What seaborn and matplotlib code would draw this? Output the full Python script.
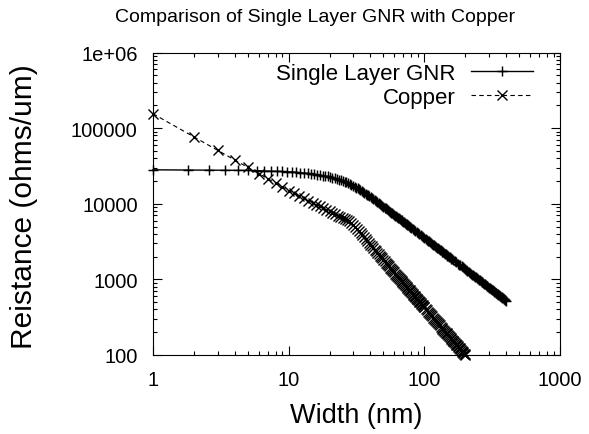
import matplotlib
matplotlib.use("Agg")
import numpy as np
import pandas as pd
import matplotlib.pyplot as plt
import seaborn as sns
from matplotlib.ticker import FixedLocator, FixedFormatter, LogLocator, NullFormatter

# ---------------- data ----------------
title = "Comparison of Single Layer GNR with Copper"
x_label = "Width (nm)"
y_label = "Reistance (ohms/um)"
series_names = ["Single Layer GNR", "Copper"]

gnr_width = [1.0, 1.8, 2.6, 3.4, 4.2, 5.0, 5.8, 6.6, 7.4, 8.2,
             9.0, 9.8, 10.6, 11.4, 12.2, 13.0, 13.8, 14.6, 15.4, 16.2,
             17.0, 17.8, 18.6, 19.4, 20.2, 21.0, 21.8, 22.6, 23.4, 24.2,
             25.0, 25.8, 26.6, 27.4, 28.2, 29.0, 29.8, 30.6, 31.4, 32.2,
             33.0, 33.8, 34.6, 35.4, 36.2, 37.0, 37.8, 38.6, 39.4, 40.2,
             41, 42, 43, 44, 45, 46, 47, 48, 49, 50,
             51, 52, 53, 54, 55, 56, 57, 58, 59, 60,
             61, 62, 63, 64, 65, 66, 67, 68, 69, 70,
             71, 72, 73, 74, 75, 76, 77, 78, 79, 80,
             82, 84, 86, 88, 90, 92, 94, 96, 98, 100,
             102, 104, 106, 108, 110, 112, 114, 116, 118, 120,
             122, 124, 126, 128, 130, 132, 134, 136, 138, 140,
             142, 144, 146, 148, 150, 152, 154, 156, 158, 160,
             164, 168, 172, 176, 180, 184, 188, 192, 196, 200,
             204, 208, 212, 216, 220, 224, 228, 232, 236, 240,
             244, 248, 252, 256, 260, 264, 268, 272, 276, 280,
             284, 288, 292, 296, 300, 304, 308, 312, 316, 320,
             324, 328, 332, 336, 340, 344, 348, 352, 356, 360,
             364, 368, 372, 376, 380, 384, 388, 392, 396, 400]
gnr_res = [28100, 27900, 27800, 27700, 27700, 27600, 27400, 27200, 27000, 26800,
           26700, 26500, 26300, 26000, 25700, 25500, 25300, 25000, 24700, 24300,
           24000, 23600, 23300, 23000, 22600, 22100, 21700, 21300, 20900, 20500,
           20100, 19600, 19100, 18600, 18200, 17800, 17400, 16900, 16400, 16000,
           15500, 15100, 14700, 14400, 14000, 13600, 13200, 12900, 12500, 12200,
           11900, 11500, 11200, 10800, 10500, 10200, 9940, 9670, 9410, 9160,
           8920, 8690, 8460, 8250, 8050, 7850, 7660, 7480, 7310, 7140,
           6980, 6830, 6680, 6540, 6400, 6270, 6140, 6010, 5890, 5780,
           5670, 5560, 5450, 5350, 5250, 5160, 5070, 4980, 4890, 4810,
           4650, 4490, 4350, 4220, 4090, 3970, 3850, 3740, 3640, 3540,
           3440, 3350, 3260, 3180, 3100, 3020, 2950, 2880, 2820, 2750,
           2690, 2630, 2570, 2520, 2460, 2410, 2360, 2320, 2270, 2225,
           2180, 2140, 2100, 2060, 2020, 1990, 1950, 1920, 1880, 1850,
           1790, 1730, 1680, 1620, 1570, 1530, 1480, 1440, 1400, 1360,
           1325, 1290, 1256, 1220, 1194, 1160, 1137, 1110, 1084, 1060,
           1035, 1010, 990, 969, 949, 929, 910, 891, 874, 856,
           840, 824, 808, 793, 779, 765, 751, 738, 725, 713,
           701, 689, 677, 666, 656, 645, 635, 625, 615, 606,
           597, 588, 579, 571, 562, 554, 547, 539, 531, 524]

cu_width = [1, 2, 3, 4, 5, 6, 7, 8, 9, 10,
            11, 12, 13, 14, 15, 16, 17, 18, 19, 20,
            21, 22, 23, 24, 25, 26, 27, 28, 29, 30,
            31, 32, 33, 34, 35, 36, 37, 38, 39, 40,
            41, 42, 43, 44, 45, 46, 47, 48, 49, 50,
            51, 52, 53, 54, 55, 56, 57, 58, 59, 60,
            61, 62, 63, 64, 65, 66, 67, 68, 69, 70,
            71, 72, 73, 74, 75, 76, 77, 78, 79, 80,
            81, 82, 83, 84, 85, 86, 87, 88, 89, 90,
            91, 92, 93, 94, 95, 96, 97, 98, 99, 100,
            102, 104, 106, 108, 110, 112, 114, 116, 118, 120,
            122, 124, 126, 128, 130, 132, 134, 136, 138, 140,
            142, 144, 146, 148, 150, 152, 154, 156, 158, 160,
            162, 164, 166, 168, 170, 172, 174, 176, 178, 180,
            182, 184, 186, 188, 190, 192, 194, 196, 198, 200]
cu_res = [155000, 76600, 50800, 37900, 30200, 25100, 21500, 18800, 16650, 14960,
          13710, 12660, 11770, 11000, 10330, 9730, 9210, 8740, 8320, 7940,
          7590, 7270, 6980, 6720, 6470, 6240, 6030, 5830, 5650, 5260,
          4910, 4600, 4310, 4050, 3810, 3600, 3400, 3210, 3040, 2880,
          2740, 2610, 2480, 2360, 2260, 2150, 2060, 1970, 1890, 1810,
          1740, 1670, 1600, 1540, 1480, 1430, 1380, 1330, 1280, 1240,
          1190, 1150, 1120, 1080, 1050, 1010, 982, 952, 923, 896,
          870, 845, 821, 798, 776, 754, 734, 714, 696, 678,
          660, 644, 628, 612, 597, 583, 569, 555, 542, 530,
          518, 506, 495, 484, 473, 463, 453, 443, 434, 425,
          408, 392, 376, 362, 348, 335, 323, 312, 301, 290,
          281, 271, 262, 254, 246, 238, 231, 224, 217, 210,
          204, 198, 193, 187, 182, 177, 172, 168, 163, 159,
          155, 151, 147, 144, 140, 137, 134, 130, 127, 124,
          122, 119, 116, 114, 111, 109, 106, 104, 102, 99.8]

x_ticks = [1, 10, 100, 1000]
x_tick_labels = ["1", "10", "100", "1000"]
y_ticks = [100, 1000, 10000, 100000, 1000000]
y_tick_labels = ["100", "1000", "10000", "100000", "1e+06"]

# ---------------- styling ----------------
plt.rcParams['font.family'] = ['Liberation Sans', 'DejaVu Sans']
plt.rcParams['axes.linewidth'] = 0.8

W, H = 589, 435
fig = plt.figure(figsize=(W / 100, H / 100), dpi=100)
ax = fig.add_axes([153 / W, (H - 356) / H, 407 / W, 302.5 / H])

df_gnr = pd.DataFrame({"width": gnr_width, "res": gnr_res})
df_cu = pd.DataFrame({"width": cu_width, "res": cu_res})

sns.lineplot(data=df_gnr, x="width", y="res", ax=ax, color="black", linewidth=1.0,
             marker="+", markersize=6.8, markeredgewidth=1.05, markeredgecolor="black",
             label=series_names[0], estimator=None, clip_on=False)
sns.lineplot(data=df_cu, x="width", y="res", ax=ax, color="black", linewidth=0.8,
             linestyle=(0, (4, 3)), marker="x", markersize=6.8, markeredgewidth=1.0,
             markeredgecolor="black", label=series_names[1], estimator=None, clip_on=False)

ax.set_xscale("log")
ax.set_yscale("log")
ax.set_xlim(1, 1000)
ax.set_ylim(100, 1e6)

ax.xaxis.set_major_locator(FixedLocator(x_ticks))
ax.xaxis.set_major_formatter(FixedFormatter(x_tick_labels))
ax.yaxis.set_major_locator(FixedLocator(y_ticks))
ax.yaxis.set_major_formatter(FixedFormatter(y_tick_labels))
ax.xaxis.set_minor_locator(LogLocator(base=10, subs=np.arange(2, 10)))
ax.yaxis.set_minor_locator(LogLocator(base=10, subs=np.arange(2, 10)))
ax.xaxis.set_minor_formatter(NullFormatter())
ax.yaxis.set_minor_formatter(NullFormatter())

ax.tick_params(which="both", direction="in", top=True, right=True, width=0.8, colors="black")
ax.tick_params(which="major", length=6.2)
ax.tick_params(which="minor", length=3.2)
ax.tick_params(axis="y", which="major", labelsize=14.5, pad=11)
ax.tick_params(axis="x", which="major", labelsize=14.5, pad=11)

ax.set_xlabel(x_label, fontsize=19.5)
ax.xaxis.label.set_va("baseline")
ax.xaxis.set_label_coords(0.5, (356 - 423.3) / 302.5)
ax.set_ylabel(y_label, fontsize=21.5)
ax.yaxis.label.set_va("center")
ax.yaxis.set_label_coords((24 - 153) / 407, (356 - 207) / 302.5)

fig.text(315.5 / W, (H - 21.7) / H, title, ha="center", va="baseline", fontsize=14)

leg = ax.legend(loc="upper right", bbox_to_anchor=((533.3 - 153) / 407, (356 - 64) / 302.5),
                frameon=False, markerfirst=False, handlelength=2.8, handletextpad=0.68,
                fontsize=16, labelspacing=0.14, borderaxespad=0, borderpad=0)

fig.savefig("out.png", dpi=100)
